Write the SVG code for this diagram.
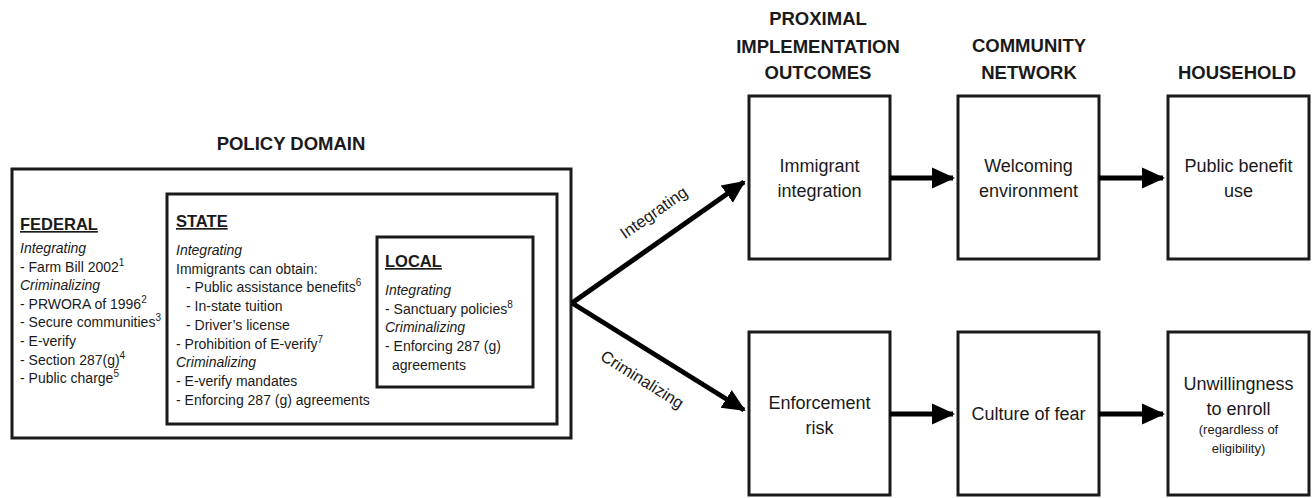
<svg xmlns="http://www.w3.org/2000/svg" width="1316" height="498" viewBox="0 0 1316 498">
<style>
text{font-family:"Liberation Sans",Arial,sans-serif;fill:#1a1a1a}
.b{font-size:14px}
.i{font-style:italic}
.h{font-size:16.5px;font-weight:bold;text-decoration:underline}
.hd{font-size:18.5px;font-weight:bold;text-anchor:middle}
.n{font-size:18px;text-anchor:middle}
.s{font-size:10px}
.box{fill:#fff;stroke:#1a1a1a;stroke-width:3}
.c{stroke:#000;stroke-width:5;fill:none}
</style>
<defs>
<marker id="ah" markerWidth="5" markerHeight="5" refX="4.2" refY="2.5" orient="auto" markerUnits="strokeWidth">
<path d="M0,0.4 L4.6,2.5 L0,4.6 Z" fill="#000"/>
</marker>
</defs>
<rect width="1316" height="498" fill="#fff"/>
<g id="policy-domain">
<text class="hd" x="291" y="150">POLICY DOMAIN</text>
<rect class="box" x="12" y="169" width="559" height="269"/>
<g id="federal">
<text class="h" x="20" y="230">FEDERAL</text>
<text class="b i" x="20" y="253">Integrating</text>
<text class="b" x="20" y="272">- Farm Bill 2002<tspan class="s" dy="-6">1</tspan></text>
<text class="b i" x="20" y="290">Criminalizing</text>
<text class="b" x="20" y="309">- PRWORA of 1996<tspan class="s" dy="-6">2</tspan></text>
<text class="b" x="20" y="327">- Secure communities<tspan class="s" dy="-6">3</tspan></text>
<text class="b" x="20" y="346">- E-verify</text>
<text class="b" x="20" y="365">- Section 287(g)<tspan class="s" dy="-6">4</tspan></text>
<text class="b" x="20" y="383">- Public charge<tspan class="s" dy="-6">5</tspan></text>
</g>
<g id="state">
<rect class="box" x="167" y="194" width="390" height="230"/>
<text class="h" x="176" y="227">STATE</text>
<text class="b i" x="176" y="255">Integrating</text>
<text class="b" x="176" y="274">Immigrants can obtain:</text>
<text class="b" x="186" y="292">- Public assistance benefits<tspan class="s" dy="-6">6</tspan></text>
<text class="b" x="186" y="311">- In-state tuition</text>
<text class="b" x="186" y="330">- Driver’s license</text>
<text class="b" x="176" y="349">- Prohibition of E-verify<tspan class="s" dy="-6">7</tspan></text>
<text class="b i" x="176" y="367">Criminalizing</text>
<text class="b" x="176" y="386">- E-verify mandates</text>
<text class="b" x="176" y="405">- Enforcing 287 (g) agreements</text>
</g>
<g id="local">
<rect class="box" x="377" y="237" width="156" height="150"/>
<text class="h" x="385" y="267">LOCAL</text>
<text class="b i" x="385" y="295">Integrating</text>
<text class="b" x="385" y="314">- Sanctuary policies<tspan class="s" dy="-6">8</tspan></text>
<text class="b i" x="385" y="332">Criminalizing</text>
<text class="b" x="385" y="351">- Enforcing 287 (g)</text>
<text class="b" x="392" y="370">agreements</text>
</g>
</g>
<g id="headers">
<text class="hd" x="818" y="25">PROXIMAL</text>
<text class="hd" x="818" y="53">IMPLEMENTATION</text>
<text class="hd" x="818" y="79">OUTCOMES</text>
<text class="hd" x="1029" y="52">COMMUNITY</text>
<text class="hd" x="1029" y="79">NETWORK</text>
<text class="hd" x="1237" y="79">HOUSEHOLD</text>
</g>
<g id="immigrant-integration">
<rect class="box" x="749" y="96" width="141" height="163"/>
<text class="n" x="819.5" y="172">Immigrant</text>
<text class="n" x="819.5" y="197">integration</text>
</g>
<g id="welcoming-environment">
<rect class="box" x="958" y="96" width="141" height="163"/>
<text class="n" x="1028.5" y="172">Welcoming</text>
<text class="n" x="1028.5" y="197">environment</text>
</g>
<g id="public-benefit-use">
<rect class="box" x="1168" y="96" width="141" height="163"/>
<text class="n" x="1238.5" y="172">Public benefit</text>
<text class="n" x="1238.5" y="197">use</text>
</g>
<g id="enforcement-risk">
<rect class="box" x="749" y="332" width="141" height="163"/>
<text class="n" x="819.5" y="409">Enforcement</text>
<text class="n" x="819.5" y="434">risk</text>
</g>
<g id="culture-of-fear">
<rect class="box" x="958" y="332" width="141" height="163"/>
<text class="n" x="1028.5" y="420">Culture of fear</text>
</g>
<g id="unwillingness">
<rect class="box" x="1168" y="332" width="141" height="163"/>
<text class="n" x="1238.5" y="390">Unwillingness</text>
<text class="n" x="1238.5" y="415">to enroll</text>
<text class="n" x="1238.5" y="434" style="font-size:13px">(regardless of</text>
<text class="n" x="1238.5" y="453" style="font-size:13px">eligibility)</text>
</g>
<g id="connectors">
<path class="c" d="M572,303 L744,182" marker-end="url(#ah)"/>
<path class="c" d="M572,303 L744,410" marker-end="url(#ah)"/>
<path class="c" d="M890,178 L953,178" marker-end="url(#ah)"/>
<path class="c" d="M1099,178 L1163,178" marker-end="url(#ah)"/>
<path class="c" d="M890,414 L953,414" marker-end="url(#ah)"/>
<path class="c" d="M1099,414 L1163,414" marker-end="url(#ah)"/>
<text class="n" x="654" y="213" transform="rotate(-35 654 213)" dy="5" style="font-size:16.5px">Integrating</text>
<text class="n" x="642" y="380" transform="rotate(32 642 380)" dy="5" style="font-size:16.5px">Criminalizing</text>
</g>
</svg>
